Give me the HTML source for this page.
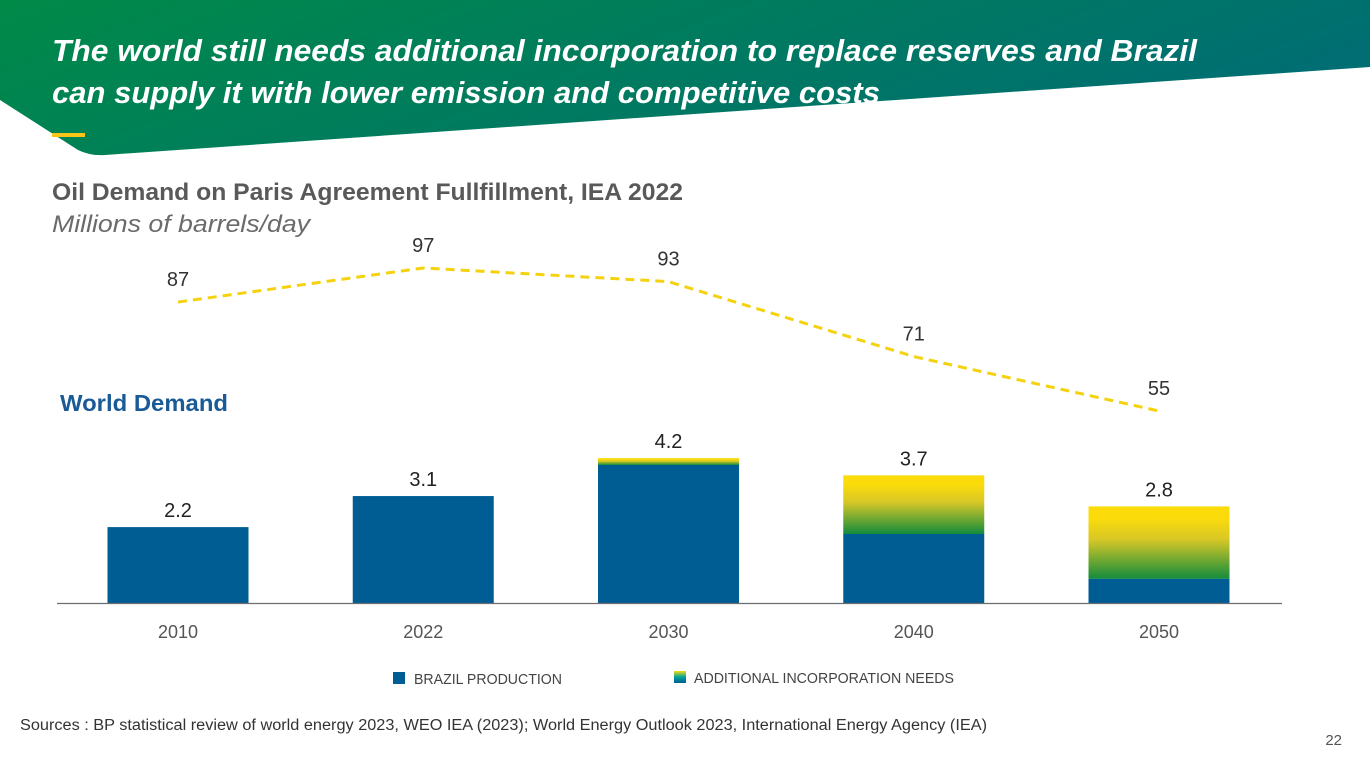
<!DOCTYPE html>
<html><head><meta charset="utf-8"><style>
body{margin:0;width:1370px;height:771px;overflow:hidden;background:#fff;font-family:"Liberation Sans",sans-serif}
svg{display:block}
</style></head><body>
<svg width="1370" height="771" viewBox="0 0 1370 771">
<defs>
<linearGradient id="hdr" x1="0" y1="0" x2="1" y2="0.3">
<stop offset="0" stop-color="#008a48"/><stop offset="1" stop-color="#006e72"/></linearGradient>
<linearGradient id="add" x1="0" y1="1" x2="0" y2="0">
<stop offset="0" stop-color="#138c3c"/><stop offset="0.55" stop-color="#d9c826"/><stop offset="0.85" stop-color="#fbdc0a"/><stop offset="1" stop-color="#fbdc0a"/></linearGradient>
<linearGradient id="leg" x1="0" y1="1" x2="0" y2="0">
<stop offset="0" stop-color="#005d94"/><stop offset="0.5" stop-color="#00a39a"/><stop offset="1" stop-color="#f5dc10"/></linearGradient>
</defs>
<path d="M0,0 H1370 V67 L105,155 Q90,156 78,150 L0,100 Z" fill="url(#hdr)"/>
<g fill="#fff" font-weight="bold" font-style="italic" font-size="31">
<text x="52" y="61" textLength="1145" lengthAdjust="spacingAndGlyphs">The world still needs additional incorporation to replace reserves and Brazil</text>
<text x="52" y="103" textLength="828" lengthAdjust="spacingAndGlyphs">can supply it with lower emission and competitive costs</text>
</g>
<rect x="52" y="133" width="33" height="4" fill="#f5c518"/>
<text x="52" y="200" font-size="24" font-weight="bold" fill="#595959" textLength="631" lengthAdjust="spacingAndGlyphs">Oil Demand on Paris Agreement Fullfillment, IEA 2022</text>
<text x="52" y="232" font-size="24" font-style="italic" fill="#6b6b6b" textLength="258" lengthAdjust="spacingAndGlyphs">Millions of barrels/day</text>
<text x="60" y="411" font-size="23" font-weight="bold" fill="#1a5a96" textLength="168" lengthAdjust="spacingAndGlyphs">World Demand</text>
<g id="chart"></g>
<line x1="57" y1="603.5" x2="1282" y2="603.5" stroke="#6e6e6e" stroke-width="1.2"/>
<rect x="393" y="672" width="12" height="12" fill="#005d94"/>
<text x="414" y="684" font-size="15" fill="#444" textLength="148" lengthAdjust="spacingAndGlyphs">BRAZIL PRODUCTION</text>
<rect x="674" y="671" width="12" height="12" fill="url(#leg)"/>
<text x="694" y="683" font-size="15" fill="#444" textLength="260" lengthAdjust="spacingAndGlyphs">ADDITIONAL INCORPORATION NEEDS</text>
<text x="20" y="730" font-size="15.5" fill="#333" textLength="967" lengthAdjust="spacingAndGlyphs">Sources : BP statistical review of world energy 2023, WEO IEA (2023); World Energy Outlook 2023, International Energy Agency (IEA)</text>
<text x="1342" y="745" font-size="15" fill="#555" text-anchor="end">22</text>
</svg>
<script>
const years=["2010","2022","2030","2040","2050"];
const totals=[2.2,3.1,4.2,3.7,2.8];
const brazil=[2.2,3.1,4.0,2.0,0.7];
const demand=[87,97,93,71,55];
const NS="http://www.w3.org/2000/svg";
const g=document.getElementById('chart');
const xc=i=>178+i*245.25;
const yb=v=>603-v*34.5;
const yl=v=>268+(97-v)*3.405;
function mk(t,a){const e=document.createElementNS(NS,t);for(const k in a)e.setAttribute(k,a[k]);g.appendChild(e);return e;}
years.forEach((y,i)=>{
 const x=xc(i)-70.5;
 if(totals[i]>brazil[i]){
  const a=mk('rect',{x:x,y:yb(totals[i]),width:141,height:yb(brazil[i])-yb(totals[i]),fill:'url(#add)'});
  
  
 }
 const b=mk('rect',{x:x,y:yb(brazil[i]),width:141,height:603-yb(brazil[i]),fill:'#005d94'});
 
 
 const t=mk('text',{x:xc(i),y:yb(totals[i])-10,'font-size':20,fill:'#222','text-anchor':'middle'});
 t.textContent=totals[i].toFixed(1);
 
 
 const l=mk('text',{x:xc(i),y:638,'font-size':18,fill:'#555','text-anchor':'middle'});
 l.textContent=y;
 
 
 const d=mk('text',{x:xc(i),y:yl(demand[i])-16,'font-size':20,fill:'#333','text-anchor':'middle'});
 d.textContent=demand[i];
 
 
});
const p=mk('polyline',{points:demand.map((v,i)=>xc(i)+','+yl(v)).join(' '),fill:'none',stroke:'#f5d20f','stroke-width':3,'stroke-dasharray':'9 6'});


</script>
</body></html>
